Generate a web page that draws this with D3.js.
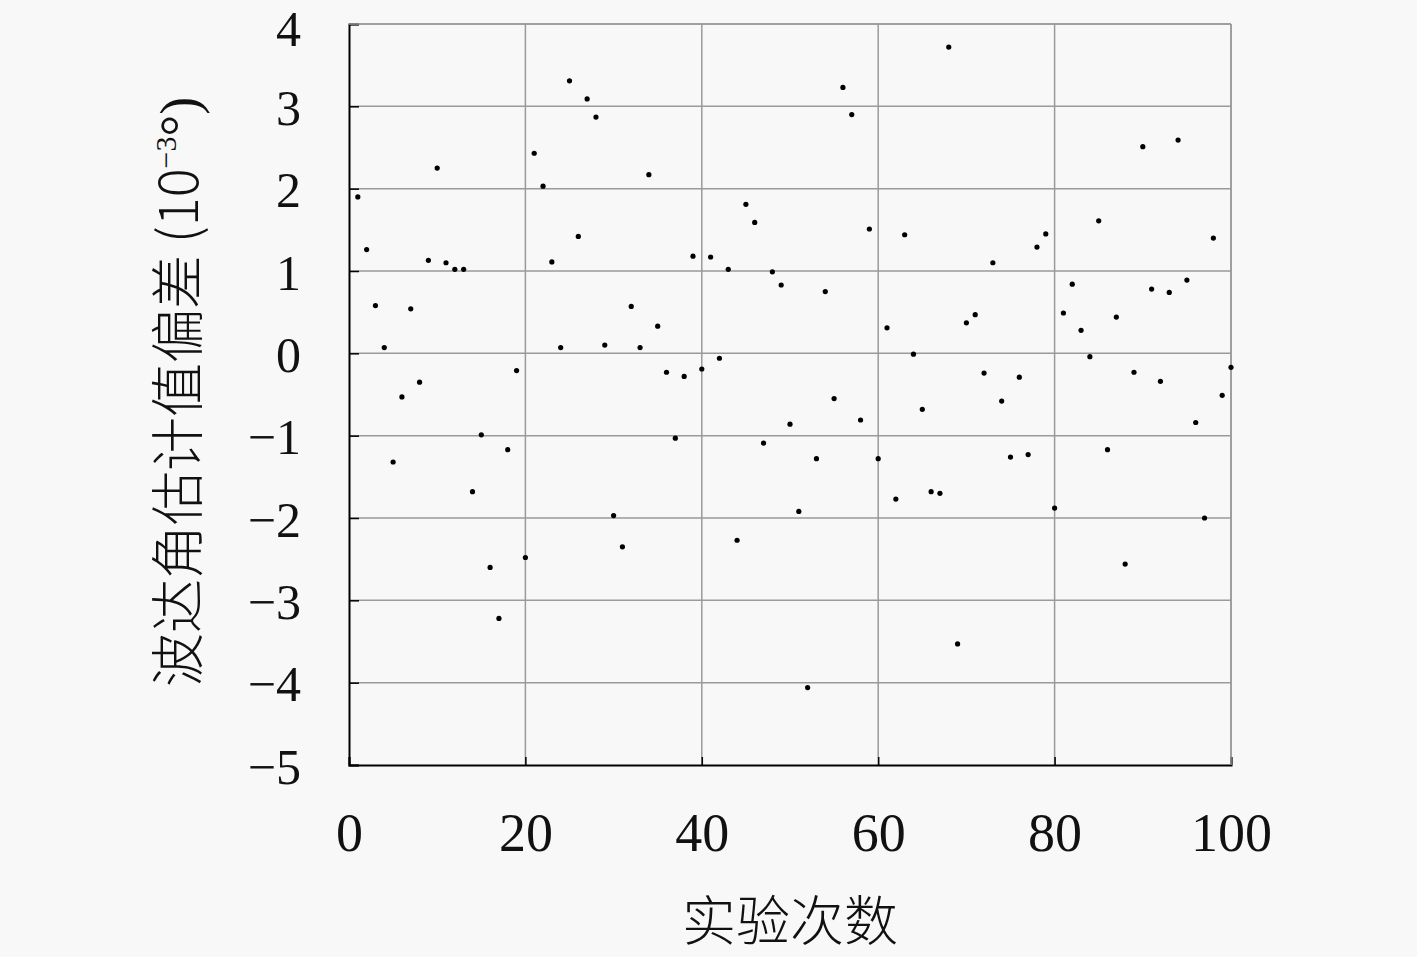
<!DOCTYPE html>
<html><head><meta charset="utf-8">
<script src="https://cdn.jsdelivr.net/npm/d3@7"></script>
<style>
html,body{margin:0;padding:0;background:#f8f8f8;}
svg{display:block;}
</style></head>
<body>
<svg id="c" width="1417" height="957"></svg>
<script>
// trial index 1..100
const trials = d3.range(1, 101);
// DOA estimate deviation (×10^-3 deg)
const deviation = [
 1.90, 1.26, 0.58, 0.07,-1.32,-0.53, 0.54,-0.35, 1.13, 2.25,
 1.10, 1.02, 1.02,-1.68,-0.99,-2.60,-3.22,-1.17,-0.21,-2.48,
 2.43, 2.03, 1.11, 0.07, 3.31, 1.42, 3.09, 2.87, 0.10,-1.97,
-2.35, 0.57, 0.07, 2.17, 0.33,-0.23,-1.03,-0.28, 1.18,-0.19,
 1.17,-0.06, 1.02,-2.27, 1.81, 1.59,-1.09, 0.99, 0.83,-0.86,
-1.92,-4.06,-1.28, 0.75,-0.55, 3.23, 2.90,-0.81, 1.51,-1.28,
 0.31,-1.77, 1.44,-0.01,-0.68,-1.68,-1.70, 3.72,-3.53, 0.37,
 0.47,-0.24, 1.10,-0.58,-1.26,-0.29,-1.23, 1.29, 1.45,-1.88,
 0.49, 0.84, 0.28,-0.04, 1.61,-1.17, 0.44,-2.56,-0.23, 2.51,
 0.78,-0.34, 0.74, 2.59, 0.89,-0.84,-2.00, 1.40,-0.51,-0.17
];
const xTicks = [0, 20, 40, 60, 80, 100];
const yTicks = [4, 3, 2, 1, 0, -1, -2, -3, -4, -5];
const xTitle = "实验次数";
const yTitle = "波达角估计值偏差 (10";

const L = 349, R = 1231, T = 24, B = 765;
const svg = d3.select("#c");
const x = d3.scaleLinear().domain([0, 100]).range([L, R]);
const y = d3.scaleLinear().domain([-5, 4]).range([B, T]);

const grid = svg.append("g");
grid.selectAll(".gx").data(xTicks.filter(d => d > 0)).join("line")
  .attr("x1", d => x(d)).attr("x2", d => x(d)).attr("y1", T).attr("y2", B)
  .attr("stroke", "#9a9a9a").attr("stroke-width", 1.5);
grid.selectAll(".gy").data(yTicks.filter(d => d > -5)).join("line")
  .attr("x1", L).attr("x2", R).attr("y1", d => y(d)).attr("y2", d => y(d))
  .attr("stroke", "#9a9a9a").attr("stroke-width", 1.5);

// axes
const fontNum = "'Liberation Serif','DejaVu Serif',serif";
const yAxis = d3.axisLeft(y).tickValues(yTicks).tickSize(-10).tickPadding(48)
  .tickFormat(d => d < 0 ? "\u2212" + Math.abs(d) : String(d));
const gy = svg.append("g").attr("transform", `translate(${L},0)`).call(yAxis);
gy.select(".domain").attr("stroke", "#000").attr("stroke-width", 2);
gy.selectAll(".tick line").attr("stroke", "#000").attr("stroke-width", 1.5);
gy.selectAll(".tick text").attr("font-family", fontNum).attr("font-size", 50)
  .attr("fill", "#111").attr("dy", d => d === 4 ? "0.42em" : "0.36em");

const xAxis = d3.axisBottom(x).tickValues(xTicks).tickSize(-8).tickPadding(48)
  .tickFormat(d3.format("d"));
const gx = svg.append("g").attr("transform", `translate(0,${B})`).call(xAxis);
gx.select(".domain").attr("stroke", "#000").attr("stroke-width", 2);
gx.selectAll(".tick line").attr("stroke", "#000").attr("stroke-width", 1.5);
gx.selectAll(".tick text").attr("font-family", fontNum).attr("font-size", 54)
  .attr("fill", "#111").attr("dy", "0.71em");

// top & right border (gray)
svg.append("line").attr("x1", L).attr("x2", R).attr("y1", T).attr("y2", T)
  .attr("stroke", "#9a9a9a").attr("stroke-width", 1.5);
svg.append("line").attr("x1", R).attr("x2", R).attr("y1", T).attr("y2", B)
  .attr("stroke", "#9a9a9a").attr("stroke-width", 1.5);

// points
svg.append("g").selectAll("circle").data(trials).join("circle")
  .attr("cx", (d) => x(d)).attr("cy", (d, i) => y(deviation[i]))
  .attr("r", 2.6).attr("fill", "#000");

// titles
const cjk = "'Noto Sans CJK SC','Noto Sans CJK JP',sans-serif";
svg.append("text").attr("x", 790).attr("y", 941).attr("text-anchor", "middle")
  .attr("font-family", cjk).attr("font-size", 54).attr("font-weight", 300).attr("fill", "#111")
  .text(xTitle);

const yt = svg.append("text").attr("transform", "translate(198,392) rotate(-90)")
  .attr("text-anchor", "middle").attr("font-family", cjk).attr("font-size", 54)
  .attr("font-weight", 300).attr("fill", "#111");
yt.append("tspan").text(yTitle);
yt.append("tspan").attr("font-size", 30).attr("dy", -22).attr("font-family", fontNum).text("\u22123");
yt.append("tspan").attr("dy", 22).attr("font-family", fontNum).text("\u00b0)");
</script>
</body></html>
